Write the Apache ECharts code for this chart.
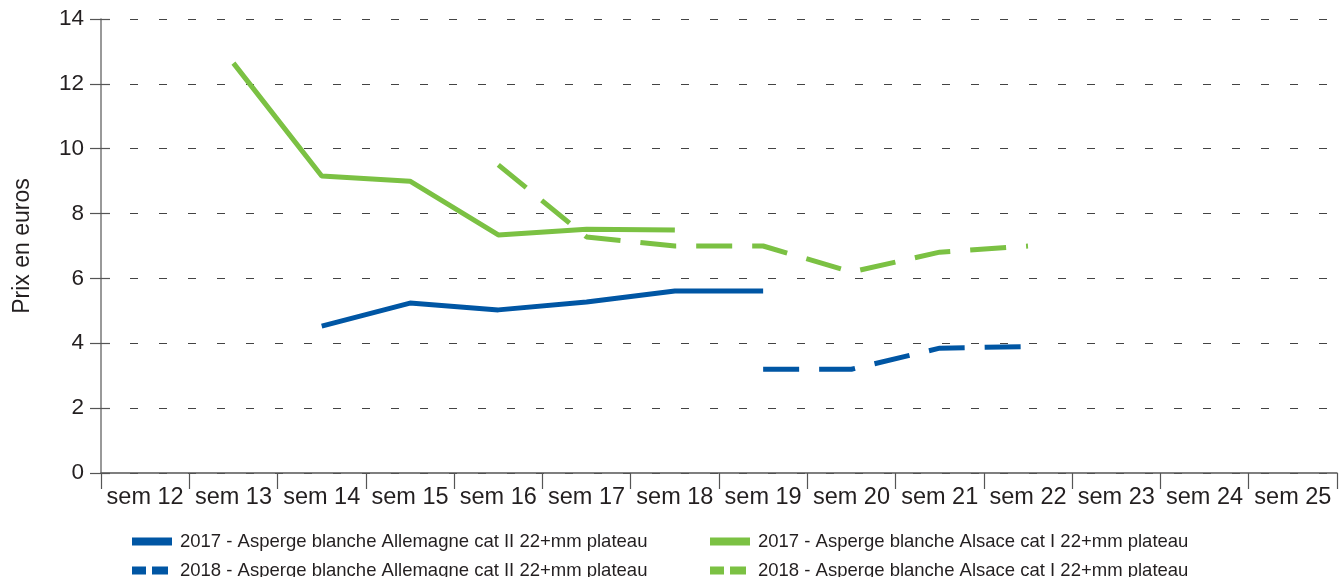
<!DOCTYPE html>
<html><head><meta charset="utf-8">
<script src="https://cdn.jsdelivr.net/npm/echarts@6/dist/echarts.min.js"></script>
<style>html,body{margin:0;padding:0;background:#fff}#c{width:1339px;height:577px}</style>
</head><body><div id="c"></div>
<script>
const categories = ['sem 12','sem 13','sem 14','sem 15','sem 16','sem 17','sem 18','sem 19','sem 20','sem 21','sem 22','sem 23','sem 24','sem 25'];
const blue2017 = [null, null, 4.53, 5.24, 5.03, 5.27, 5.61, 5.61, null, null, null, null, null, null];
const green2017 = [null, 12.64, 9.16, 9.0, 7.34, 7.52, 7.49, null, null, null, null, null, null, null];
const blue2018 = [null, null, null, null, null, null, null, 3.2, 3.2, 3.85, 3.9, null, null, null];
const green2018 = [null, null, null, null, 9.5, 7.28, 7.0, 7.0, 6.2, 6.81, 7.0, null, null, null];
const names = [
  '2017 - Asperge blanche Allemagne cat II 22+mm plateau',
  '2018 - Asperge blanche Allemagne cat II 22+mm plateau',
  '2017 - Asperge blanche Alsace cat I 22+mm plateau',
  '2018 - Asperge blanche Alsace cat I 22+mm plateau'
];
const BLUE = '#0056a4', GREEN = '#7bc143';
const FONT = 'Liberation Sans';
const solidIcon = 'path://M0,0H40V8H0Z';
const dashIcon = 'path://M0,0H14V8H0Z M20,0H36V8H20Z';
function mkLegend(name, left, top, icon, w, pad) {
  return { data: [{ name: name, icon: icon }], left: left, top: top, orient: 'horizontal',
    itemWidth: w, itemHeight: 8, padding: 0, selectedMode: false,
    textStyle: { fontFamily: FONT, fontSize: 18.5, color: '#231f20', padding: [0,0,0,pad] } };
}
const chart = echarts.init(document.getElementById('c'), null, { renderer: 'canvas' });
function line(name, data, color, dashed) {
  return { name: name, type: 'line', data: data, symbol: 'none', showSymbol: false, animation: false,
    lineStyle: { color: color, width: 5, type: dashed ? [36, 20] : 'solid', cap: 'butt' },
    itemStyle: { color: color }, connectNulls: false };
}
chart.setOption({
  animation: false,
  grid: { left: 101, right: 2, top: 19, bottom: 104 },
  legend: [
    mkLegend(names[0], 132, 532, solidIcon, 40, 3),
    mkLegend(names[1], 132, 561, dashIcon, 36, 7),
    mkLegend(names[2], 710, 532, solidIcon, 40, 3),
    mkLegend(names[3], 710, 561, dashIcon, 36, 7)
  ],
  xAxis: {
    type: 'category', data: categories, boundaryGap: true,
    axisLine: { lineStyle: { color: '#555', width: 1.5 } },
    axisTick: { show: true, length: 16, lineStyle: { color: '#555', width: 1.2 } },
    axisLabel: { fontFamily: FONT, fontSize: 23.5, color: '#231f20', margin: 13, interval: 0 },
    splitLine: { show: false }
  },
  yAxis: [{
    type: 'value', min: 0, max: 14, interval: 2,
    name: 'Prix en euros', nameLocation: 'middle', nameGap: 67, nameRotate: 90,
    nameTextStyle: { fontFamily: FONT, fontSize: 23, color: '#231f20' },
    axisLine: { show: true, lineStyle: { color: '#777', width: 1.5 } },
    axisTick: { show: true, length: 11, lineStyle: { color: '#555', width: 1.2 } },
    axisLabel: { fontFamily: FONT, fontSize: 22.5, color: '#231f20', margin: 17 },
    splitLine: { show: true, lineStyle: { color: '#444', width: 1.2, type: [8, 21] } }
  }, {
    type: 'value', min: 0, max: 14, interval: 2, position: 'left',
    axisLine: { show: false },
    axisTick: { show: true, inside: true, length: 9, lineStyle: { color: '#555', width: 1.2 } },
    axisLabel: { show: false }, splitLine: { show: false }
  }],
  series: [
    line(names[0], blue2017, BLUE, false),
    line(names[1], blue2018, BLUE, true),
    line(names[2], green2017, GREEN, false),
    line(names[3], green2018, GREEN, true)
  ]
});
</script></body></html>
